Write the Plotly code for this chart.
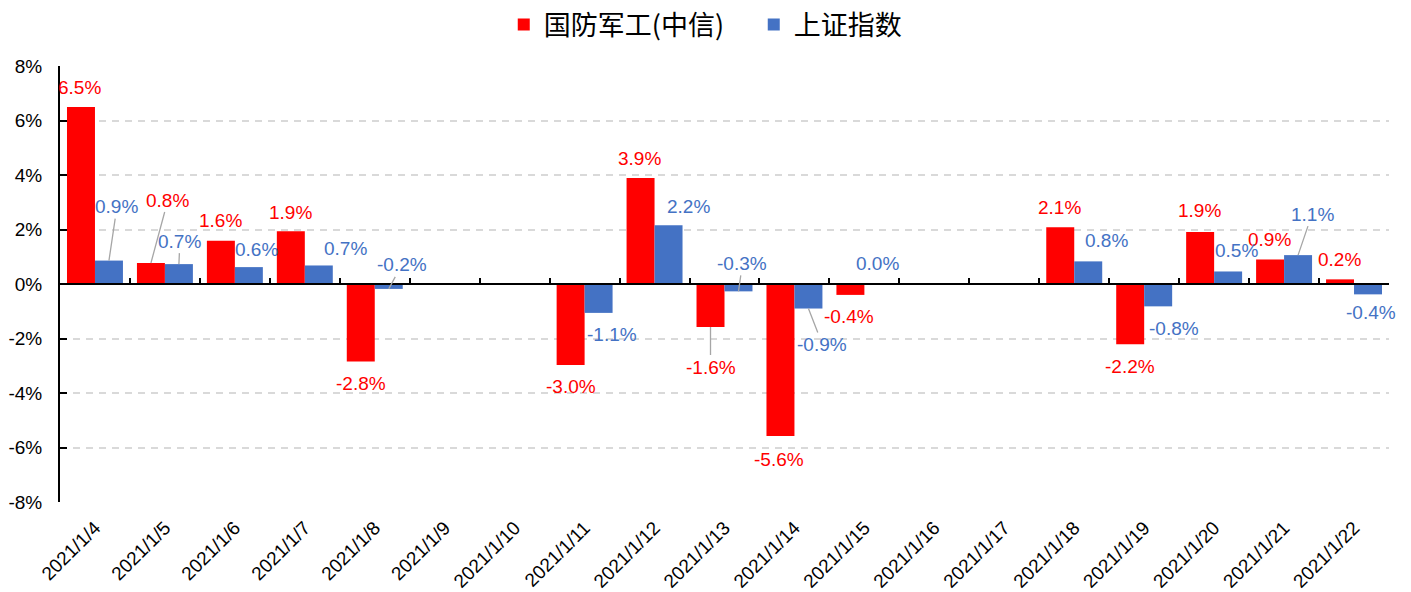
import plotly.graph_objects as go

# ---------------- data ----------------
categories = ["2021/1/4", "2021/1/5", "2021/1/6", "2021/1/7", "2021/1/8", "2021/1/9",
              "2021/1/10", "2021/1/11", "2021/1/12", "2021/1/13", "2021/1/14", "2021/1/15",
              "2021/1/16", "2021/1/17", "2021/1/18", "2021/1/19", "2021/1/20", "2021/1/21",
              "2021/1/22"]
defense_name = "国防军工(中信)"
defense = [6.5, 0.77, 1.59, 1.94, -2.84, None, None, -2.97, 3.89, -1.58, -5.58, -0.40,
           None, None, 2.08, -2.21, 1.91, 0.90, 0.17]
sse_name = "上证指数"
sse = [0.86, 0.73, 0.62, 0.68, -0.18, None, None, -1.06, 2.16, -0.27, -0.90, 0.01,
       None, None, 0.83, -0.82, 0.46, 1.06, -0.38]
y_ticks = [-8, -6, -4, -2, 0, 2, 4, 6, 8]
y_tick_labels = ["-8%", "-6%", "-4%", "-2%", "0%", "2%", "4%", "6%", "8%"]

# ---------------- styling ----------------
RED = "#FF0000"
BLUE = "#4472C4"
NUM_FONT = "Liberation Sans, Arial, sans-serif"
CJK_FONT = "Noto Sans CJK SC, sans-serif"

# label offsets in pixels (dx, dy: text centre relative to bar end, y down), leader line flag
red_offsets = [(-1, -19, False), (17, -63, True), (0, -20, False), (0, -19, False), (0, 22, False),
               None, None, (0, 22, False), (-1, -20, False), (0, 40, True), (-1, 23, False),
               (-1, 22, False), None, None, (-1, -20, False), (0, 22, False), (-1, -21, False),
               (-1, -20, False), (-1, -20, False)]
blue_offsets = [(8, -54, True), (1, -23, True), (8, -18, False), (27, -17, False), (13, -24, True),
                None, None, (13, 22, False), (20, -19, False), (4, -28, True), (14, 36, True),
                (-1, -20, False), None, None, (18, -21, False), (16, 22, False), (8, -21, False),
                (14, -41, True), (3, 18, False)]

fig = go.Figure()
fig.add_trace(go.Bar(name=defense_name, x=categories, y=defense, marker_color=RED,
                     marker_line_width=0))
fig.add_trace(go.Bar(name=sse_name, x=categories, y=sse, marker_color=BLUE,
                     marker_line_width=0))
# helper trace for the zero-line category axis
fig.add_trace(go.Scatter(x=categories, y=[None] * len(categories), xaxis="x2", yaxis="y",
                         showlegend=False, hoverinfo="skip", mode="markers"))

annotations = []
for values, offsets, color, shift in [(defense, red_offsets, RED, -0.2),
                                      (sse, blue_offsets, BLUE, 0.2)]:
    for i, v in enumerate(values):
        if v is None:
            continue
        dx, dy, leader = offsets[i]
        common = dict(x=i + shift, y=v, xref="x", yref="y", text=f"{v:.1f}%",
                      font=dict(family=NUM_FONT, size=19, color=color))
        if leader:
            annotations.append(dict(**common, showarrow=True, ax=dx, ay=dy,
                                    arrowhead=0, arrowwidth=1.3, arrowcolor="#A6A6A6",
                                    standoff=0, startstandoff=0))
        else:
            annotations.append(dict(**common, showarrow=False, xshift=dx, yshift=-dy))

fig.update_layout(
    width=1411, height=592,
    margin=dict(l=60, r=22, t=66, b=90, autoexpand=False),
    paper_bgcolor="white", plot_bgcolor="white",
    barmode="group", bargap=0.2, bargroupgap=0,
    annotations=annotations,
    legend=dict(orientation="h", x=0.3339, xanchor="left", y=1.094, yanchor="middle",
                font=dict(family=CJK_FONT, size=27, color="#000000"),
                itemwidth=30, entrywidth=205, traceorder="normal"),
    xaxis=dict(type="category", categoryorder="array", categoryarray=categories,
               range=[-0.5, len(categories) - 0.5],
               tickangle=-45, showline=False, ticks="", showgrid=False, zeroline=False,
               ticklabelstandoff=10,
               tickfont=dict(family=NUM_FONT, size=19, color="#000000")),
    xaxis2=dict(overlaying="x", matches="x", anchor="free", position=0.5,
                showline=True, linecolor="#000000", linewidth=2,
                ticks="inside", tickson="boundaries", ticklen=5, tickwidth=1.5,
                tickcolor="#000000", showticklabels=False, showgrid=False, zeroline=False),
    yaxis=dict(range=[-8, 8], tickmode="array", tickvals=y_ticks, ticktext=y_tick_labels,
               showline=True, linecolor="#000000", linewidth=2,
               ticks="inside", ticklen=7, tickwidth=1.5, tickcolor="#000000",
               showgrid=True, gridcolor="#D9D9D9", gridwidth=2, griddash="7px,6px",
               zeroline=False, ticklabelstandoff=12,
               tickfont=dict(family=NUM_FONT, size=19, color="#000000")),
    showlegend=True,
)

fig.write_html("out.html")
